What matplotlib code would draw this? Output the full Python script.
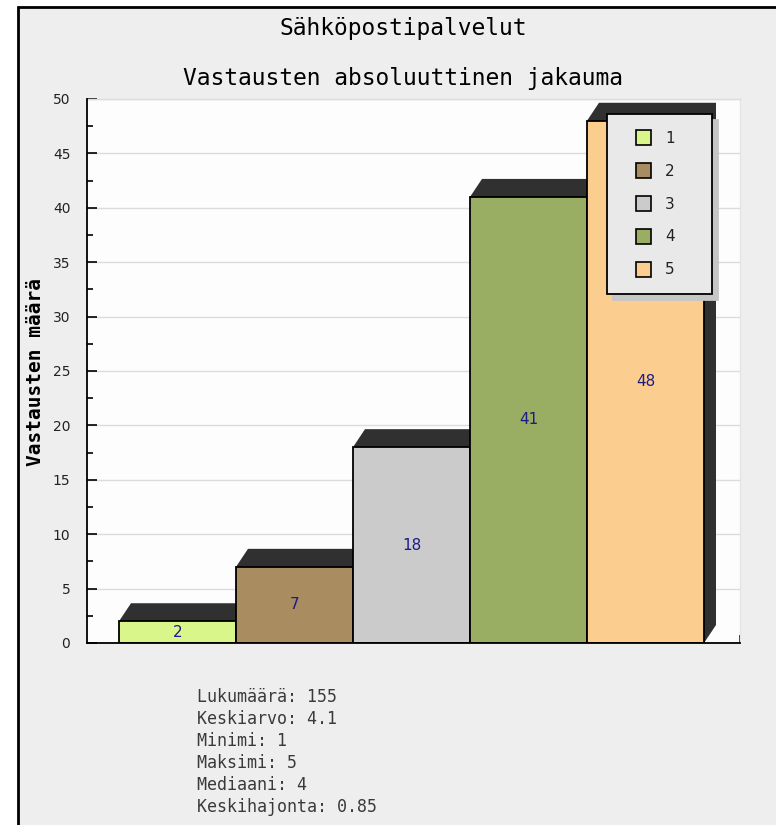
import matplotlib
matplotlib.use("Agg")
import matplotlib.pyplot as plt
from matplotlib.patches import Rectangle, Polygon
from matplotlib.lines import Line2D
import numpy as np

# ---- data ----
categories = ["1", "2", "3", "4", "5"]
values = [2, 7, 18, 41, 48]
bar_colors = ["#d9f68b", "#a98c5f", "#cbcbcb", "#99ad63", "#fbcd8e"]
title1 = "Sähköpostipalvelut"
title2 = "Vastausten absoluuttinen jakauma"
ylabel = "Vastausten määrä"
stats_lines = ["Lukumäärä: 155", "Keskiarvo: 4.1", "Minimi: 1",
               "Maksimi: 5", "Mediaani: 4", "Keskihajonta: 0.85"]
yticks = list(range(0, 51, 5))

W, H = 776, 825
fig = plt.figure(figsize=(W / 100, H / 100), dpi=100)
fig.patch.set_facecolor("white")

# framed background (left and top border visible)
bg = Rectangle((17.5 / W, -0.1), 1.2, 1.1 - 7 / H, transform=fig.transFigure,
               facecolor="#eeeeee", edgecolor="black", linewidth=2, zorder=-10)
fig.add_artist(bg)

ax = fig.add_axes([87 / W, 1 - 643 / H, (740 - 87) / W, (643 - 99) / H])
ax.set_facecolor("#fdfdfd")

x = np.arange(len(values))
px_per_unit = 117.0
x_left = -0.5 - 32 / px_per_unit
x_right = 4.5 + 36 / px_per_unit
ax.set_xlim(x_left, x_right)
ax.set_ylim(0, 50)

# 3D shadow blocks behind bars
dx = 12 / px_per_unit
dy = 18 / (544 / 50)
for xi, h in zip(x, values):
    x0, x1 = xi - 0.5, xi + 0.5
    poly = Polygon([(x0, h), (x0 + dx, h + dy), (x1 + dx, h + dy), (x1 + dx, dy), (x1, 0)],
                   closed=True, facecolor="#303030", edgecolor="none", zorder=2)
    ax.add_patch(poly)

bars = ax.bar(x, values, width=1.0, color=bar_colors, edgecolor="black",
              linewidth=1.3, zorder=3)
ax.bar_label(bars, labels=[str(v) for v in values], label_type="center",
             color="#1c1c86", fontsize=11, family="DejaVu Sans", zorder=4)

# grid & axes
ax.set_yticks(yticks)
ax.set_yticks(np.arange(2.5, 50, 5), minor=True)
ax.yaxis.grid(True, which="major", color="#dcdcdc", linewidth=1, zorder=0)
ax.set_axisbelow(True)
ax.tick_params(axis="y", which="major", direction="in", length=7, width=1.2,
               pad=12, labelsize=10, labelcolor="#222222", color="black")
ax.tick_params(axis="y", which="minor", direction="in", length=4, width=1.2, color="black")
ax.set_xticks([x_right])
ax.set_xticklabels([""])
ax.tick_params(axis="x", direction="in", length=6, width=1.2)
for s in ["left", "bottom"]:
    ax.spines[s].set_color("black")
    ax.spines[s].set_linewidth(1.3)
    ax.spines[s].set_zorder(5)
ax.spines["top"].set_color("#dcdcdc")
ax.spines["top"].set_linewidth(1)
ax.spines["right"].set_color("#e4e4e4")
ax.spines["right"].set_linewidth(1)

ax.set_ylabel(ylabel, family="DejaVu Sans Mono", fontweight="bold", fontsize=14, color="black")
ax.yaxis.set_label_coords((45 - 87) / 653, (643 - 372) / 544)

# legend
handles = [Line2D([], [], linestyle="none", marker="s", markersize=10.8,
                  markerfacecolor=c, markeredgecolor="black", markeredgewidth=1.2)
           for c in bar_colors]
x0a = (607 - 87) / 653
x1a = (712 - 87) / 653
ytop = (643 - 114) / 544
leg = ax.legend(handles, categories, loc="upper left",
                bbox_to_anchor=(x0a, ytop - 0.5, x1a - x0a, 0.5), mode="expand",
                fontsize=11, handlelength=2.5, handletextpad=0.2, borderpad=1.1,
                labelspacing=1.17, borderaxespad=0, fancybox=False, framealpha=1,
                facecolor="#e9e9e9", edgecolor="black",
                shadow={"ox": 4.3, "oy": -4.3, "facecolor": "#c6c6c6",
                        "edgecolor": "#c6c6c6", "alpha": 1})
leg.get_frame().set_linewidth(1.3)
leg.set_zorder(6)
for t in leg.get_texts():
    t.set_color("#222222")

# titles
fig.text(403 / W, 1 - 28 / H, title1, ha="center", va="center",
         family="DejaVu Sans Mono", fontsize=16.5, color="black")
fig.text(403 / W, 1 - 78 / H, title2, ha="center", va="center",
         family="DejaVu Sans Mono", fontsize=16.5, color="black")

# statistics
for i, line in enumerate(stats_lines):
    fig.text(197 / W, 1 - (697 + 22 * i) / H, line, ha="left", va="center",
             family="DejaVu Sans Mono", fontsize=12, color="#3a3a3a")

fig.savefig("out.png", dpi=100, facecolor=fig.get_facecolor())
